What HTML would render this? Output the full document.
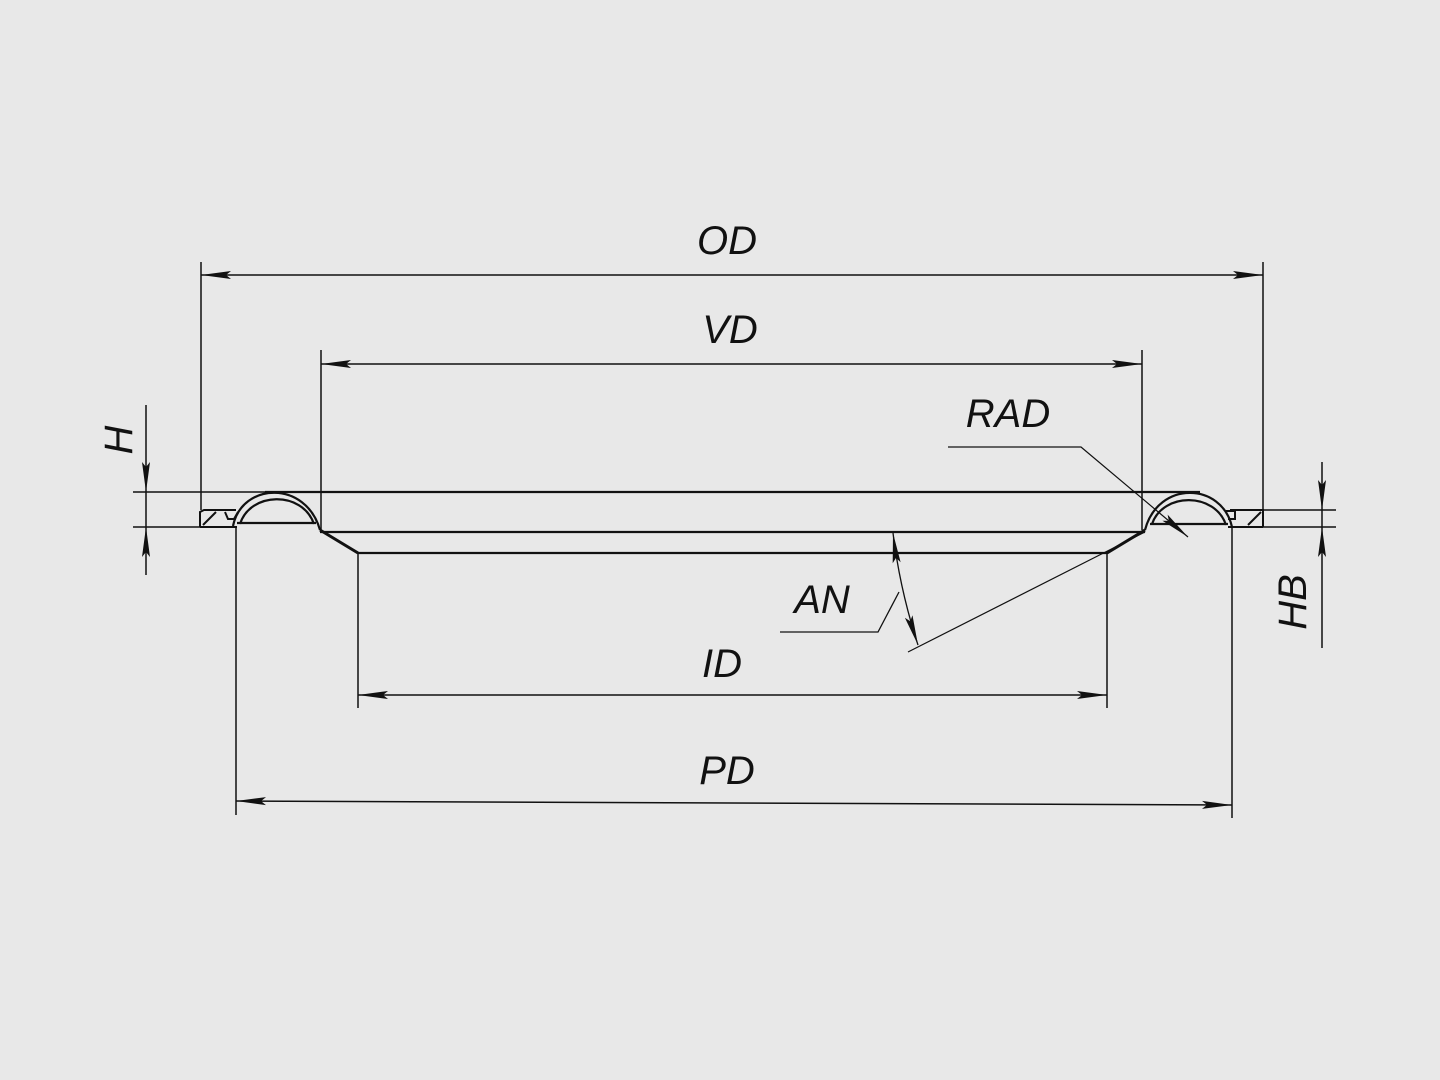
<!DOCTYPE html>
<html><head><style>
html,body{margin:0;padding:0;background:#e8e8e8;}
svg{display:block}
text{font-family:"Liberation Sans",sans-serif;font-style:italic;font-size:40px;fill:#111}
</style></head><body>
<svg width="1440" height="1080" viewBox="0 0 1440 1080">
<defs>
<marker id="a" viewBox="0 0 30 10" refX="30" refY="5" markerWidth="30" markerHeight="10" markerUnits="userSpaceOnUse" orient="auto-start-reverse">
<path d="M0,1 L30,5 L0,9 L5,5 Z" fill="#111"/></marker>
</defs>
<rect width="1440" height="1080" fill="#e8e8e8"/>
<g stroke="#111" fill="none" stroke-width="1.5">
<line x1="201" y1="262" x2="201" y2="510"/>
<line x1="1263" y1="262" x2="1263" y2="510"/>
<line x1="321" y1="350" x2="321" y2="530"/>
<line x1="1142" y1="350" x2="1142" y2="530"/>
<line x1="358" y1="553" x2="358" y2="708"/>
<line x1="1107" y1="553" x2="1107" y2="708"/>
<line x1="236" y1="527" x2="236" y2="815"/>
<line x1="1232" y1="527" x2="1232" y2="818"/>
<line x1="201" y1="275" x2="1263" y2="275" marker-start="url(#a)" marker-end="url(#a)"/>
<line x1="321" y1="364" x2="1142" y2="364" marker-start="url(#a)" marker-end="url(#a)"/>
<line x1="358" y1="695" x2="1107" y2="695" marker-start="url(#a)" marker-end="url(#a)"/>
<line x1="236" y1="801" x2="1232" y2="805" marker-start="url(#a)" marker-end="url(#a)"/>
<line x1="133" y1="492" x2="270" y2="492"/>
<line x1="133" y1="527" x2="236" y2="527"/>
<line x1="146" y1="405" x2="146" y2="492" marker-end="url(#a)"/>
<line x1="146" y1="575" x2="146" y2="527" marker-end="url(#a)"/>
<line x1="146" y1="492" x2="146" y2="527"/>
<line x1="1230" y1="510" x2="1336" y2="510"/>
<line x1="1232" y1="527" x2="1336" y2="527"/>
<line x1="1322" y1="462" x2="1322" y2="510" marker-end="url(#a)"/>
<line x1="1322" y1="648" x2="1322" y2="527" marker-end="url(#a)"/>
<line x1="1322" y1="510" x2="1322" y2="527"/>
<line x1="265" y1="492" x2="1200" y2="492" stroke-width="2.2"/>
<line x1="320" y1="532" x2="1145" y2="532" stroke-width="2.2"/>
<line x1="358" y1="553" x2="1107" y2="553" stroke-width="2.2"/>
<path d="M320,530 L358,553 M1145,530 L1107,553" stroke-width="3"/>
<path d="M200,527 L200,512 L204,510 L236,510 M200,527 L237,527 M203,525 L216,512" stroke-width="2"/>
<path d="M225,512 L228,519 L234,519 L238,512" stroke-width="2"/>
<path d="M233,526 C242,482 306,480 320,530 M240,524 C250,492 302,490 314,524 M237,523 L316,523" stroke-width="2.2"/>
<path d="M1263,527 L1263,510 L1230,510 M1263,527 L1228,527 M1248,525 L1261,512" stroke-width="2"/>
<path d="M1226,511 L1235,511 L1235,519 L1228,519" stroke-width="2"/>
<path d="M1145,530 C1158,480 1222,482 1232,527 M1152,524 C1163,492 1215,492 1226,525 M1150,524 L1228,524" stroke-width="2.2"/>
<polyline points="948,447 1081,447 1188,537" stroke-width="1.2" marker-end="url(#a)"/>
<polyline points="780,632 878,632 899,592" stroke-width="1.3"/>
<path d="M893,533 Q900,590 918,645" stroke-width="1.3" marker-start="url(#a)" marker-end="url(#a)"/>
<line x1="908" y1="652" x2="1145" y2="532" stroke-width="1.2"/>
</g>
<text x="727" y="254" text-anchor="middle">OD</text>
<text x="730" y="343" text-anchor="middle">VD</text>
<text x="722" y="677" text-anchor="middle">ID</text>
<text x="727" y="784" text-anchor="middle">PD</text>
<text x="1008" y="427" text-anchor="middle">RAD</text>
<text x="822" y="613" text-anchor="middle">AN</text>
<text transform="translate(132,440) rotate(-90)" text-anchor="middle">H</text>
<text transform="translate(1306,602) rotate(-90)" text-anchor="middle">HB</text>
</svg>
</body></html>
